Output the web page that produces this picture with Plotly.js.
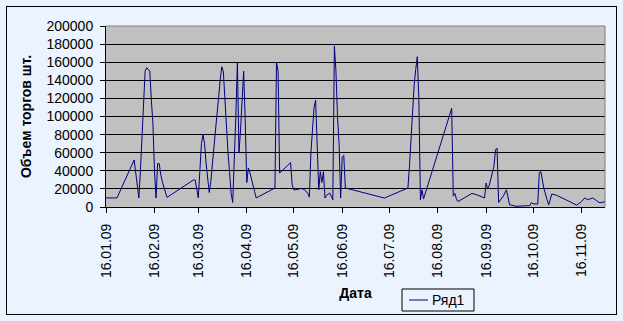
<!DOCTYPE html>
<html>
<head>
<meta charset="utf-8">
<script src="https://cdn.plot.ly/plotly-3.0.1.min.js"></script>
<style>
  html, body { margin: 0; padding: 0; background: #EAF3FE; }
  #wrap { position: relative; width: 623px; height: 321px; }
  #chart { position: absolute; left: 0; top: 0; width: 623px; height: 321px; }
  #frame { position: absolute; left: 6px; top: 6px; width: 611px; height: 309px; box-sizing: border-box; border: 1px solid #000; pointer-events: none; }
</style>
</head>
<body>
<div id="wrap">
  <div id="chart"></div>
  <div id="frame"></div>
</div>
<script>
// Trading dates (2009) and volumes
const dates = [
  '2009-01-16','2009-01-23','2009-02-03','2009-02-06','2009-02-07','2009-02-08','2009-02-09','2009-02-10',
  '2009-02-11','2009-02-12','2009-02-13','2009-02-14','2009-02-15','2009-02-16','2009-02-17','2009-02-18',
  '2009-02-19','2009-02-20','2009-02-21','2009-02-24','2009-03-13','2009-03-14','2009-03-16','2009-03-17',
  '2009-03-18','2009-03-19','2009-03-20','2009-03-21','2009-03-22','2009-03-23','2009-03-24','2009-03-25',
  '2009-03-26','2009-03-27','2009-03-28','2009-03-29','2009-03-30','2009-03-31','2009-04-01','2009-04-02',
  '2009-04-03','2009-04-04','2009-04-05','2009-04-06','2009-04-07','2009-04-08','2009-04-09','2009-04-10',
  '2009-04-11','2009-04-12','2009-04-13','2009-04-14','2009-04-15','2009-04-16','2009-04-17','2009-04-18',
  '2009-04-21','2009-04-22','2009-05-04','2009-05-05','2009-05-06','2009-05-07','2009-05-14','2009-05-15',
  '2009-05-16','2009-05-17','2009-05-21','2009-05-23','2009-05-25','2009-05-26','2009-05-27','2009-05-28',
  '2009-05-29','2009-05-30','2009-05-31','2009-06-01','2009-06-02','2009-06-03','2009-06-04','2009-06-05',
  '2009-06-06','2009-06-08','2009-06-09','2009-06-10','2009-06-11','2009-06-12','2009-06-13','2009-06-14',
  '2009-06-15','2009-06-16','2009-06-17','2009-06-18','2009-07-13','2009-07-28','2009-07-29','2009-07-30',
  '2009-07-31','2009-08-01','2009-08-02','2009-08-03','2009-08-04','2009-08-05','2009-08-06','2009-08-07',
  '2009-08-25','2009-08-26','2009-08-27','2009-08-28','2009-08-29','2009-09-07','2009-09-10','2009-09-15',
  '2009-09-16','2009-09-17','2009-09-18','2009-09-20','2009-09-21','2009-09-22','2009-09-23','2009-09-24',
  '2009-09-27','2009-09-29','2009-10-01','2009-10-05','2009-10-11','2009-10-14','2009-10-15','2009-10-16',
  '2009-10-19','2009-10-20','2009-10-21','2009-10-22','2009-10-23','2009-10-25','2009-10-26','2009-10-28',
  '2009-10-29','2009-10-31','2009-11-06','2009-11-10','2009-11-13','2009-11-16','2009-11-18','2009-11-20',
  '2009-11-23','2009-11-25','2009-11-27','2009-11-29','2009-12-01'
];
const volumes = [
  10000,10000,52000,10000,40000,75000,115000,150000,
  154000,152000,150000,118000,92000,40000,10000,48000,
  48000,36000,28000,10600,30000,30000,10000,40000,
  70000,80000,70000,48000,30000,16000,28000,50000,
  63000,85000,103000,125000,140000,155000,150000,120000,
  85000,60000,38000,15000,5000,45000,100000,160000,
  59600,85000,120000,150000,95000,27000,43000,38000,
  17000,10000,21000,160000,150000,37500,49000,25000,
  19000,19000,20500,19000,15000,11000,60000,82000,
  110000,118000,70000,19000,39000,27000,39000,9900,
  13000,15400,12000,8000,178000,150000,100000,70000,
  10000,55000,57000,21000,9900,21000,45000,75000,
  108000,135000,152000,166000,120000,8000,19000,9000,
  109000,12000,15000,9000,6000,15000,13500,10000,
  26500,20000,24000,40000,45000,63000,65000,5000,
  12000,19000,2500,800,1000,1500,5000,3500,
  3300,38000,39000,28000,20000,8000,2500,14300,
  14000,13000,8000,5000,2000,6000,10000,8000,
  10000,8000,5000,5000,6000
];
const seriesName = 'Ряд1';
const tickDates = ['2009-01-16','2009-02-16','2009-03-16','2009-04-16','2009-05-16','2009-06-16',
                   '2009-07-16','2009-08-16','2009-09-16','2009-10-16','2009-11-16'];
const tickLabels = ['16.01.09','16.02.09','16.03.09','16.04.09','16.05.09','16.06.09',
                    '16.07.09','16.08.09','16.09.09','16.10.09','16.11.09'];
const yTicks = [0,20000,40000,60000,80000,100000,120000,140000,160000,180000,200000];
const yTickLabels = ['0','20000','40000','60000','80000','100000','120000','140000','160000','180000','200000'];
const yTitle = 'Объем торгов шт.';
const xTitle = 'Дата';

const FONT = 'Liberation Sans, Arial, sans-serif';
const LINE_COLOR = '#000080';

const trace = {
  x: dates, y: volumes, type: 'scatter', mode: 'lines', name: seriesName,
  line: { color: LINE_COLOR, width: 1 }, showlegend: false
};

// Legend box drawn below the plot (paper coordinates relative to plot area)
const legendBox = { x0: 0.5932, x1: 0.7375, y0: -0.5746, y1: -0.453 };
const legendMidY = (legendBox.y0 + legendBox.y1) / 2;

const layout = {
  width: 623, height: 321,
  margin: { l: 106, r: 18, t: 26, b: 114 },
  paper_bgcolor: 'rgba(0,0,0,0)',
  plot_bgcolor: '#C0C0C0',
  font: { family: FONT, size: 14, color: '#000' },
  xaxis: {
    type: 'date', range: ['2009-01-16', '2009-12-01'],
    tickmode: 'array', tickvals: tickDates, ticktext: tickLabels,
    tickangle: -90, ticks: 'outside', ticklen: 5, tickcolor: '#000', tickwidth: 1,
    ticklabelstandoff: 5,
    showline: true, linecolor: '#000', linewidth: 1,
    showgrid: false, zeroline: false,
    tickfont: { family: FONT, size: 14, color: '#000' },
    title: { text: xTitle, font: { family: FONT, size: 14, color: '#000', weight: 'bold' }, standoff: 11 },
    automargin: false, fixedrange: true
  },
  yaxis: {
    range: [0, 200000], tickmode: 'array', tickvals: yTicks, ticktext: yTickLabels,
    ticks: 'outside', ticklen: 5, tickcolor: '#000', tickwidth: 1,
    ticklabelstandoff: 4,
    showline: true, linecolor: '#000', linewidth: 1,
    showgrid: true, gridcolor: '#000', gridwidth: 1, zeroline: false,
    tickfont: { family: FONT, size: 14, color: '#000' },
    title: { text: yTitle, font: { family: FONT, size: 14, color: '#000', weight: 'bold' }, standoff: 11 },
    automargin: false, fixedrange: true
  },
  shapes: [
    { type: 'line', xref: 'paper', yref: 'paper', x0: 0, x1: 1, y0: 1, y1: 1, line: { color: '#808080', width: 1 }, layer: 'above' },
    { type: 'line', xref: 'paper', yref: 'paper', x0: 1, x1: 1, y0: 0, y1: 1, line: { color: '#808080', width: 1 }, layer: 'above' },
    { type: 'rect', xref: 'paper', yref: 'paper', x0: legendBox.x0, x1: legendBox.x1, y0: legendBox.y0, y1: legendBox.y1,
      line: { color: '#000', width: 1 }, fillcolor: '#EAF3FE', layer: 'above' },
    { type: 'line', xref: 'paper', yref: 'paper', x0: 0.6072, x1: 0.6453, y0: legendMidY, y1: legendMidY,
      line: { color: LINE_COLOR, width: 1 }, layer: 'above' }
  ],
  annotations: [
    { xref: 'paper', yref: 'paper', x: 0.6493, y: legendMidY, xanchor: 'left', yanchor: 'middle',
      text: seriesName, showarrow: false, font: { family: FONT, size: 14, color: '#000' } }
  ],
  showlegend: false
};

Plotly.newPlot('chart', [trace], layout, { staticPlot: true, displayModeBar: false });
</script>
</body>
</html>
